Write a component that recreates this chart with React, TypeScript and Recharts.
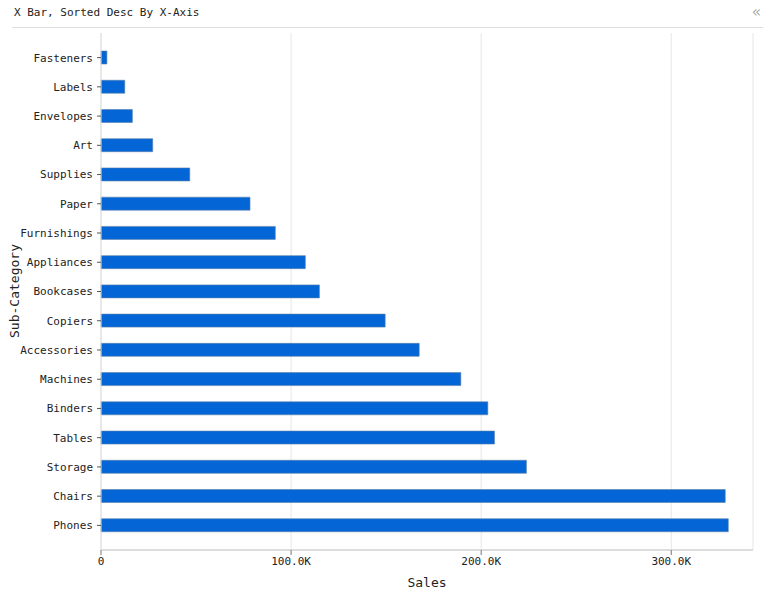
import React from 'react'
import { BarChart, Bar, XAxis, YAxis, CartesianGrid } from 'recharts'

// sub-categories, top to bottom
const categories = [
  'Fasteners', 'Labels', 'Envelopes', 'Art', 'Supplies', 'Paper', 'Furnishings',
  'Appliances', 'Bookcases', 'Copiers', 'Accessories', 'Machines', 'Binders',
  'Tables', 'Storage', 'Chairs', 'Phones',
]
const sales = [
  3100, 12500, 16500, 27200, 46700, 78400, 91700,
  107500, 114900, 149500, 167400, 189300, 203500,
  207000, 223800, 328400, 330000,
]
const xTicks = [0, 100000, 200000, 300000]

const data = categories.map((name, i) => ({ name, sales: sales[i] }))

const FONT = '"DejaVu Sans Mono", monospace'

const fmt = (v: number) => (v === 0 ? '0' : `${(v / 1000).toFixed(1)}K`)

export default function App() {
  return (
    <div style={{ position: 'absolute', left: 0, top: 0, width: 776, height: 600, background: '#fff', fontFamily: FONT }}>
      {/* header */}
      <div style={{ position: 'absolute', left: 14, top: 6, fontSize: 11, color: '#222' }}>
        X Bar, Sorted Desc By X-Axis
      </div>
      <div style={{ position: 'absolute', left: 752, top: 3, fontSize: 15, color: '#aaa' }}>«</div>
      <div style={{ position: 'absolute', left: 12, top: 27, width: 751, height: 1, background: '#ddd' }} />

      <div style={{ position: 'absolute', left: 0, top: 0 }}>
        <BarChart
          width={776}
          height={600}
          data={data}
          layout="vertical"
          margin={{ top: 33, right: 23, bottom: 20, left: 0 }}
        >
          <CartesianGrid horizontal={false} stroke="#e6e6e6" />
          <XAxis
            type="number"
            domain={[0, 343000]}
            ticks={xTicks}
            tickFormatter={fmt}
            height={30}
            stroke="#ddd"
            strokeWidth={2}
            tickSize={5}
            tickLine={{ stroke: '#777', strokeWidth: 1 }}
            tick={{ fill: '#222', fontSize: 11, fontFamily: FONT }}
          />
          <YAxis
            type="category"
            dataKey="name"
            width={101}
            padding={{ top: 10, bottom: 10 }}
            stroke="#ddd"
            tickSize={4}
            tickMargin={4}
            tickLine={{ stroke: '#555', strokeWidth: 1 }}
            tick={{ fill: '#222', fontSize: 11, fontFamily: FONT }}
            interval={0}
          />
          <Bar
            dataKey="sales"
            fill="#0466d6"
            stroke="#5b7fa8"
            strokeWidth={0.6}
            barSize={13}
            isAnimationActive={false}
          />
        </BarChart>
      </div>

      {/* axis titles */}
      <div style={{ position: 'absolute', left: 427, top: 575, transform: 'translateX(-50%)', fontSize: 13, color: '#222' }}>
        Sales
      </div>
      <div
        style={{
          position: 'absolute', left: 14, top: 291, fontSize: 13, color: '#222', whiteSpace: 'nowrap',
          transform: 'translate(-50%, -50%) rotate(-90deg)',
        }}
      >
        Sub-Category
      </div>
    </div>
  )
}
